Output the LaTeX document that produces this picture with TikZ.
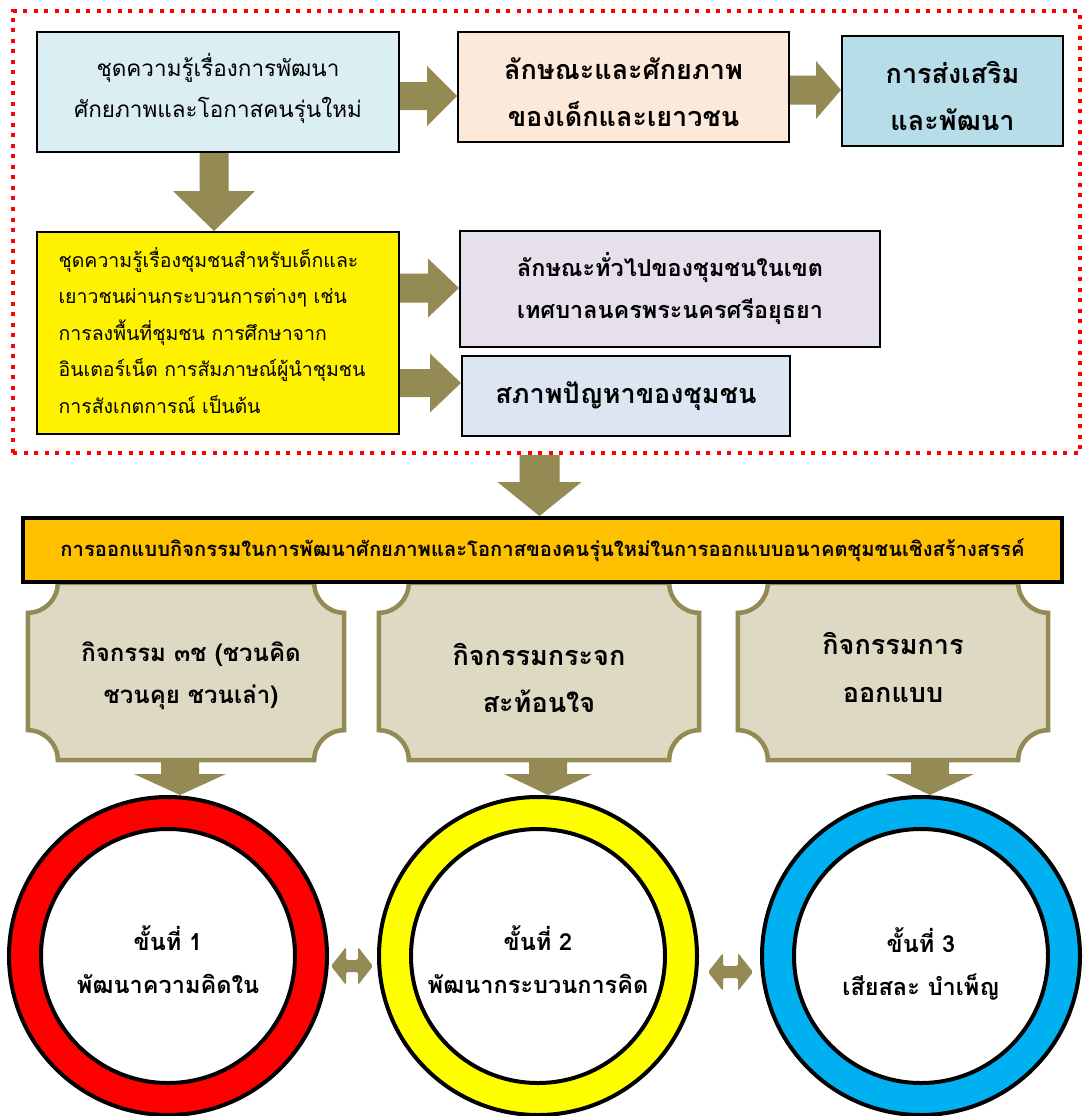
\documentclass[tikz,border=0pt]{standalone}
\usepackage{fontspec}
\setmainfont[Script=Thai]{Loma}
\usetikzlibrary{calc}
\pgfdeclarelayer{bg}\pgfsetlayers{bg,main}
\definecolor{olv}{HTML}{948A54}
\definecolor{plqfill}{HTML}{DDD9C3}
\definecolor{fillA}{HTML}{DAEEF3}
\definecolor{fillB}{HTML}{FDE9D9}
\definecolor{fillC}{HTML}{B7DEE8}
\definecolor{fillE}{HTML}{E5E0EC}
\definecolor{fillF}{HTML}{DCE6F2}
\definecolor{bannerfill}{HTML}{FFC000}
\definecolor{ringred}{HTML}{FF0000}
\definecolor{ringyellow}{HTML}{FFFF00}
\definecolor{ringblue}{HTML}{00B0F0}
\newcommand\harrow[5]{\fill[arr] let \p1=#1, \p2=#2 in
  (\x1,\y1+#3) -- (\x2-#5,\y1+#3) -- (\x2-#5,\y1+#4) -- (\x2,\y1) -- (\x2-#5,\y1-#4) -- (\x2-#5,\y1-#3) -- (\x1,\y1-#3) -- cycle;}
\newcommand\varrow[5]{\fill[arr] let \p1=#1, \p2=#2 in
  (\x1-#3,\y1) -- (\x1-#3,\y2+#5) -- (\x1-#4,\y2+#5) -- (\x1,\y2) -- (\x1+#4,\y2+#5) -- (\x1+#3,\y2+#5) -- (\x1+#3,\y1) -- cycle;}
\newcommand\darrow[5]{\fill[arr,rounded corners=2pt] let \p1=#1, \p2=#2 in
  (\x1,\y1) -- (\x1+#5,\y1+#4) -- (\x1+#5,\y1+#3) -- (\x2-#5,\y1+#3) -- (\x2-#5,\y1+#4) -- (\x2,\y1) -- (\x2-#5,\y1-#4) -- (\x2-#5,\y1-#3) -- (\x1+#5,\y1-#3) -- (\x1+#5,\y1-#4) -- cycle;}
\newcommand\plaqueshape[1]{%
  \draw[plqline] ($(#1.north west)+(30,0)$) -- ($(#1.north east)+(-30,0)$) arc (180:270:30)
    -- ($(#1.south east)+(0,30)$) arc (90:180:30)
    -- ($(#1.south west)+(30,0)$) arc (0:90:30)
    -- ($(#1.north west)+(0,-30)$) arc (270:360:30) -- cycle;}
\newcommand\tstack[2]{\raisebox{#1}[\height][\depth]{\begin{tabular}{@{}c@{}}#2\end{tabular}}}
\begin{document}
\begin{tikzpicture}[x=1pt,y=1pt,
  arr/.style={fill=olv},
  box/.style={draw=black,line width=2pt,inner sep=0pt,align=center},
  regtext/.style={font=\fontsize{22.5}{41}\selectfont},
  boldtext/.style={font=\fontsize{27}{47}\selectfont\bfseries},
  plq/.style={inner sep=0pt,align=center,minimum height=177pt},
  plqline/.style={draw=olv,line width=4.5pt,fill=plqfill},
  ring/.style={circle,draw=black,line width=4pt,minimum size=318pt,inner sep=0pt},
  hole/.style={circle,draw=black,line width=4pt,fill=white,minimum size=254pt,inner sep=0pt,align=center,font=\fontsize{23.5}{43}\selectfont\bfseries},
  dotframe/.style={draw=ringred,line width=4pt,dash pattern=on 4pt off 6.5pt,minimum width=1067pt,minimum height=442pt,inner sep=0pt}]
\useasboundingbox (0,0) rectangle (1084,-1116);
\begin{pgfonlayer}{bg}
\fill[white] (0,0) rectangle (1084,-1116);
\end{pgfonlayer}
% dotted frame
\node[dotframe] (Fr) at (546.5,-232) {};
% top boxes
\node[box,fill=fillA,regtext,minimum width=362pt,minimum height=120pt] (A) at (218,-92)
  {\tstack{3pt}{ชุดความรู้เรื่องการพัฒนา\\ศักยภาพและโอกาสคนรุ่นใหม่}};
\node[box,fill=fillB,boldtext,minimum width=331pt,minimum height=110pt] (B) at (623.5,-87)
  {\tstack{-7pt}{ลักษณะและศักยภาพ\\ของเด็กและเยาวชน}};
\node[box,fill=fillC,boldtext,minimum width=221pt,minimum height=110pt] (C) at (952.5,-91)
  {\tstack{-7pt}{การส่งเสริม\\และพัฒนา}};
\node[box,fill=yellow,align=left,font=\fontsize{19.5}{36.5}\selectfont,minimum width=362pt,minimum height=202pt] (D) at (218,-333)
  {\hspace*{-12pt}\begin{tabular}{@{}l@{}}ชุดความรู้เรื่องชุมชนสำหรับเด็กและ\\เยาวชนผ่านกระบวนการต่างๆ เช่น\\การลงพื้นที่ชุมชน การศึกษาจาก\\อินเตอร์เน็ต การสัมภาษณ์ผู้นำชุมชน\\การสังเกตการณ์ เป็นต้น\end{tabular}};
\node[box,fill=fillE,font=\fontsize{23.4}{42}\selectfont\bfseries,minimum width=420pt,minimum height=116pt] (E) at (670,-289)
  {ลักษณะทั่วไปของชุมชนในเขต\\เทศบาลนครพระนครศรีอยุธยา};
\node[box,fill=fillF,boldtext,minimum width=328pt,minimum height=80pt] (F) at (626,-396)
  {สภาพปัญหาของชุมชน};
% arrows in frame
\harrow{(A.east |- 0,-96)}{(B.west |- 0,-96)}{14pt}{30pt}{30pt}
\harrow{(B.east |- 0,-90)}{(C.west |- 0,-90)}{14.5pt}{29pt}{25pt}
\harrow{(D.east |- 0,-288)}{(E.west |- 0,-288)}{14.5pt}{29.5pt}{31pt}
\harrow{(D.east |- 0,-383)}{(F.west |- 0,-383)}{14pt}{29.5pt}{31pt}
\varrow{([xshift=-4pt]A.south)}{([xshift=-4pt]A.south |- D.north)}{14.5pt}{41pt}{40pt}
% banner
\node[draw=black,line width=4pt,fill=bannerfill,minimum width=1039pt,minimum height=64pt,inner sep=0pt,font=\fontsize{20.2}{24}\selectfont\bfseries] (Ban) at (542.5,-550)
  {การออกแบบกิจกรรมในการพัฒนาศักยภาพและโอกาสของคนรุ่นใหม่ในการออกแบบอนาคตชุมชนเชิงสร้างสรรค์};
\varrow{([xshift=-7pt]Fr.south)}{([xshift=-7pt]Fr.south |- Ban.north)}{20pt}{42pt}{34pt}
% plaques
\node[plq,minimum width=316pt,font=\fontsize{24}{42}\selectfont\bfseries] (P1) at (186,-671.5)
  {\hspace*{10pt}\tstack{-3pt}{กิจกรรม ๓ช (ชวนคิด\\ชวนคุย ชวนเล่า)}};
\node[plq,minimum width=320pt,font=\fontsize{27}{47}\selectfont\bfseries] (P2) at (539,-671.5)
  {\tstack{-8pt}{กิจกรรมกระจก\\สะท้อนใจ}};
\node[plq,minimum width=310pt,font=\fontsize{27}{48}\selectfont\bfseries] (P3) at (893,-671.5)
  {\tstack{3pt}{กิจกรรมการ\\ออกแบบ}};
\begin{pgfonlayer}{bg}
\plaqueshape{P1}
\plaqueshape{P2}
\plaqueshape{P3}
\end{pgfonlayer}
% rings
\node[ring,fill=ringred] (R1) at (168,-956) {};
\node[ring,fill=ringyellow] (R2) at (538,-956) {};
\node[ring,fill=ringblue] (R3) at (921,-956) {};
\node[hole] (C1) at (168,-956) {\tstack{-7pt}{ขั้นที่ 1\\พัฒนาความคิดใน}};
\node[hole] (C2) at (538,-956) {\tstack{-7pt}{ขั้นที่ 2\\พัฒนากระบวนการคิด}};
\node[hole] (C3) at (921,-956) {\tstack{-9pt}{ขั้นที่ 3\\เสียสละ บำเพ็ญ}};
% plaque to ring arrows
\varrow{([xshift=12pt]R1.north |- P1.south)}{([xshift=12pt]R1.north)}{19pt}{46pt}{21pt}
\varrow{([xshift=10pt]R2.north |- P2.south)}{([xshift=10pt]R2.north)}{19pt}{44pt}{21pt}
\varrow{([xshift=9pt]R3.north |- P3.south)}{([xshift=9pt]R3.north)}{19pt}{44pt}{21pt}
% double arrows
\darrow{([shift={(2pt,-10pt)}]R1.east)}{([shift={(-4pt,-10pt)}]R2.west)}{6pt}{19pt}{15pt}
\darrow{([shift={(9pt,-16pt)}]R2.east)}{([shift={(-7pt,-16pt)}]R3.west)}{6pt}{19pt}{15pt}
\end{tikzpicture}
\end{document}
